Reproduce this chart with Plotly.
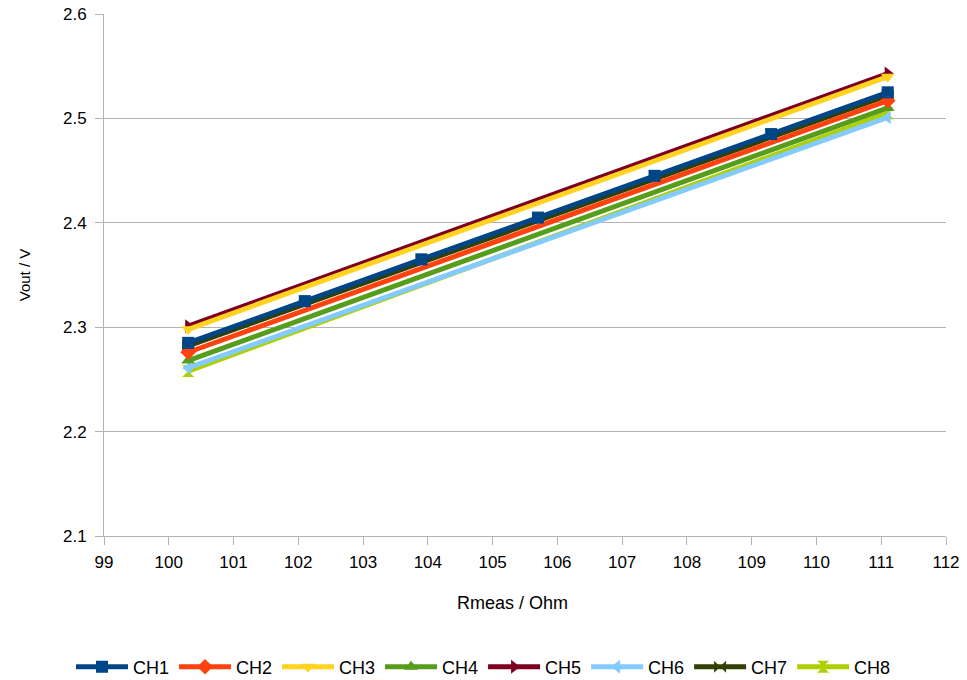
import plotly.graph_objects as go

names = ["CH1", "CH2", "CH3", "CH4", "CH5", "CH6", "CH7", "CH8"]
x_ch1 = [100.3, 102.1, 103.9, 105.7, 107.5, 109.3, 111.1]
y_ch1 = [2.285, 2.325, 2.365, 2.405, 2.445, 2.485, 2.525]
x_ends = [100.3, 111.1]
y_ch2 = [2.276, 2.517]
y_ch3 = [2.298, 2.540]
y_ch4 = [2.268, 2.510]
y_ch5 = [2.301, 2.543]
y_ch6 = [2.261, 2.501]
y_ch7 = [2.282, 2.522]
y_ch8 = [2.258, 2.505]

xs = [x_ch1] + [x_ends] * 7
ys = [y_ch1, y_ch2, y_ch3, y_ch4, y_ch5, y_ch6, y_ch7, y_ch8]
colors = ["#004586", "#ff420e", "#ffd320", "#579d1c", "#7e0021", "#83caff", "#314004", "#aecf00"]
symbols = ["square", "diamond", "triangle-down", "triangle-up", "triangle-right",
           "triangle-left", "bowtie", "hourglass"]

fig = go.Figure()
# draw last channel first so CH1 ends on top, legend keeps CH1..CH8 order
for i in reversed(range(len(names))):
    fig.add_trace(go.Scatter(x=xs[i], y=ys[i], name=names[i], mode="lines+markers",
                             legendrank=i + 1,
                             line=dict(color=colors[i], width=5),
                             marker=dict(symbol=symbols[i], size=12, color=colors[i])))

axis_common = dict(showline=True, linecolor="#b3b3b3", linewidth=1,
                   ticks="outside", ticklen=8, tickcolor="#b3b3b3",
                   tickfont=dict(size=17, color="#000000"), zeroline=False,
                   automargin=False)
fig.update_xaxes(range=[99, 112], dtick=1, showgrid=False, ticklabelstandoff=3,
                 **axis_common)
fig.update_yaxes(range=[2.1, 2.6], dtick=0.1, showgrid=True, gridcolor="#b3b3b3",
                 tickformat=".1f", ticklabelstandoff=5,
                 title=dict(text="Vout / V", font=dict(size=15, color="#000"), standoff=28),
                 **axis_common)
fig.add_annotation(text="Rmeas / Ohm", xref="paper", yref="paper", x=0.4846, y=-0.128,
                   xanchor="center", yanchor="middle", showarrow=False,
                   font=dict(size=18, color="#000"))
fig.update_layout(
    width=967, height=680,
    margin=dict(l=104, r=21, t=14, b=144),
    plot_bgcolor="white", paper_bgcolor="white",
    font=dict(family="Liberation Sans, Arial, sans-serif", color="#000"),
    showlegend=True,
    legend=dict(orientation="h", x=0.5, xanchor="center", xref="container",
                y=0.019, yanchor="middle", yref="container",
                font=dict(size=18), itemwidth=52, tracegroupgap=0),
)
fig.write_html("out.html", config={"displayModeBar": False},
               post_script="document.body.style.margin='0';")
